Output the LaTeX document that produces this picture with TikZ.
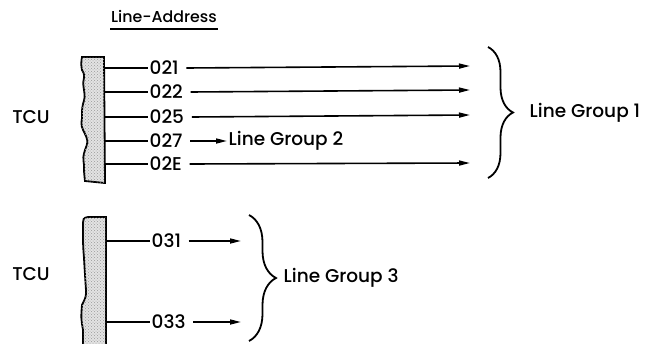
\documentclass[tikz,border=0pt]{standalone}
\usepackage{fontspec}
\setmainfont{Poppins}[UprightFont=* Medium]
\usetikzlibrary{arrows.meta,decorations.pathreplacing,patterns}
\tikzset{
  lbl/.style={inner sep=1.5pt, font=\fontsize{18.5}{20}\selectfont},
  conn/.style={line width=1.6pt},
  arr/.style={conn, -{Triangle[length=11pt,width=5pt]}},
  tcubar/.style={line width=1.8pt, fill=gray!22, postaction={pattern=crosshatch dots, pattern color=gray!80}},
  grp/.style={line width=1.8pt, decorate, decoration={brace, amplitude=#1}},
}
\begin{document}
\begin{tikzpicture}[x=1pt,y=-1pt]
\useasboundingbox (0,0) rectangle (647,343);

% heading
\node[lbl, font=\fontsize{15.8}{17}\selectfont, anchor=base] (head) at (164,22) {Line-Address};
\draw[line width=1.8pt] (110,29) -- (218,29);

% upper terminal control unit
\draw[tcubar] (82,57) -- (104,57) -- (105,183) -- (85,181)
  .. controls (84,172) .. (84,165) .. controls (83,157) .. (85,150)
  .. controls (88,142) .. (86,136) .. controls (81,126) .. (82,118)
  .. controls (82,109) .. (83,104) .. controls (85,97) .. (84,90)
  .. controls (83,83) .. (84,78) .. controls (84,73) .. (82,70)
  .. controls (81,64) .. cycle;
\node[lbl] (tcu1) at (31,117) {TCU};

\foreach \n/\y in {021/68, 022/92, 025/117, 027/141, 02E/164}{
  \coordinate (s\n) at (105,\y);
  \node[lbl, anchor=west] (a\n) at (148,\y) {\n};
  \draw[conn] (s\n) -- (a\n.west);
}
\foreach \n/\y in {021/66, 022/90, 025/115, 02E/163}{
  \coordinate (e\n) at (470,\y);
  \draw[arr] ([xshift=6pt]a\n.east) -- (e\n);
}
\node[lbl, anchor=west] (g2) at (227,141) {Line Group 2};
\draw[arr] ([xshift=6pt]a027.east) -- (g2.west);

\coordinate (b1t) at (488,47);
\coordinate (b1b) at (488,178);
\draw[grp=25pt] (b1t) -- (b1b);
\node[lbl, anchor=west] (g1) at (528,113) {Line Group 1};

% lower terminal control unit
\draw[tcubar] (106,345) -- (106,217) -- (88,217)
  .. controls (83,218) .. (83,228) .. controls (83,245) .. (84,258)
  .. controls (85,275) .. (86,290) .. controls (86,297) .. (82,305)
  .. controls (81,318) .. (83,330) -- (83,345) -- cycle;
\node[lbl] (tcu2) at (31,274) {TCU};

\foreach \n/\y in {031/241, 033/322}{
  \coordinate (s\n) at (106,\y);
  \coordinate (e\n) at (241,\y);
  \node[lbl, anchor=west] (a\n) at (150,\y) {\n};
  \draw[conn] (s\n) -- (a\n.west);
  \draw[arr] ([xshift=6pt]a\n.east) -- (e\n);
}

\coordinate (b3t) at (249,215);
\coordinate (b3b) at (249,341);
\draw[grp=27pt] (b3t) -- (b3b);
\node[lbl, anchor=west] (g3) at (282,278) {Line Group 3};
\end{tikzpicture}
\end{document}
